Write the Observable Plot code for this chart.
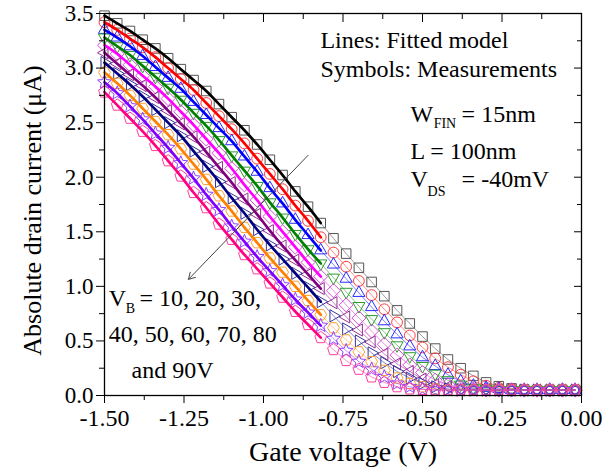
<!DOCTYPE html>
<html><head><meta charset="utf-8">
<script src="https://cdn.jsdelivr.net/npm/d3@7"></script>
<script src="https://cdn.jsdelivr.net/npm/@observablehq/plot@0.6"></script>
<style>body{margin:0;background:#fff}</style>
</head><body><div id="chart"></div>
<script>
// Gate voltage grid (V)
const gateVoltage = [-1.50,-1.46,-1.42,-1.38,-1.34,-1.30,-1.26,-1.22,-1.18,-1.14,-1.10,-1.06,-1.02,-0.98,-0.94,-0.90,-0.86,-0.82,-0.78,-0.74,-0.70,-0.66,-0.62,-0.58,-0.54,-0.50,-0.46,-0.42,-0.38,-0.34,-0.30,-0.26,-0.22,-0.18,-0.14,-0.10,-0.06,-0.02];
const seriesNames = ["0 V","10 V","20 V","30 V","40 V","50 V","60 V","70 V","80 V","90 V"];
// Absolute drain current (uA), one array per back-gate bias
const current0 = [3.48,3.41,3.34,3.26,3.18,3.09,2.99,2.89,2.79,2.67,2.55,2.43,2.30,2.16,2.02,1.87,1.73,1.58,1.44,1.30,1.17,1.04,0.91,0.78,0.66,0.54,0.43,0.33,0.25,0.18,0.12,0.085,0.065,0.055,0.05,0.05,0.05,0.05];
const current1 = [3.42,3.35,3.27,3.19,3.10,3.00,2.90,2.80,2.68,2.56,2.44,2.31,2.17,2.03,1.89,1.74,1.60,1.45,1.31,1.18,1.05,0.92,0.79,0.67,0.55,0.44,0.34,0.26,0.19,0.13,0.09,0.07,0.06,0.05,0.05,0.05,0.05,0.05];
const current2 = [3.35,3.28,3.20,3.11,3.01,2.91,2.81,2.69,2.57,2.45,2.33,2.19,2.05,1.90,1.76,1.61,1.47,1.33,1.20,1.07,0.94,0.81,0.68,0.56,0.45,0.35,0.27,0.19,0.13,0.09,0.07,0.06,0.05,0.05,0.05,0.05,0.05,0.05];
const current3 = [3.28,3.20,3.12,3.02,2.92,2.82,2.71,2.59,2.47,2.34,2.20,2.06,1.92,1.77,1.63,1.48,1.34,1.21,1.08,0.95,0.82,0.70,0.58,0.46,0.36,0.27,0.20,0.14,0.10,0.07,0.06,0.05,0.05,0.05,0.05,0.05,0.05,0.05];
const current4 = [3.21,3.13,3.03,2.93,2.83,2.72,2.60,2.48,2.35,2.22,2.08,1.93,1.79,1.64,1.50,1.36,1.22,1.09,0.96,0.83,0.71,0.59,0.47,0.37,0.28,0.21,0.14,0.10,0.07,0.06,0.05,0.05,0.05,0.05,0.05,0.05,0.05,0.05];
const current5 = [3.14,3.04,2.94,2.84,2.73,2.61,2.49,2.37,2.23,2.09,1.95,1.80,1.66,1.51,1.37,1.24,1.11,0.98,0.85,0.72,0.60,0.49,0.38,0.29,0.22,0.15,0.10,0.08,0.06,0.05,0.05,0.05,0.05,0.05,0.05,0.05,0.05,0.05];
const current6 = [3.05,2.95,2.85,2.74,2.62,2.50,2.38,2.24,2.10,1.96,1.81,1.67,1.52,1.38,1.25,1.12,0.99,0.86,0.73,0.61,0.50,0.39,0.30,0.22,0.16,0.11,0.08,0.06,0.05,0.05,0.05,0.05,0.05,0.05,0.05,0.05,0.05,0.05];
const current7 = [2.96,2.86,2.75,2.63,2.51,2.39,2.26,2.12,1.98,1.83,1.69,1.54,1.40,1.26,1.13,1.00,0.87,0.74,0.62,0.51,0.40,0.31,0.23,0.16,0.11,0.08,0.06,0.05,0.05,0.05,0.05,0.05,0.05,0.05,0.05,0.05,0.05,0.05];
const current8 = [2.87,2.77,2.65,2.53,2.40,2.27,2.13,1.99,1.84,1.70,1.55,1.41,1.27,1.14,1.01,0.88,0.76,0.64,0.52,0.41,0.31,0.24,0.17,0.11,0.08,0.06,0.05,0.05,0.05,0.05,0.05,0.05,0.05,0.05,0.05,0.05,0.05,0.05];
const current9 = [2.78,2.66,2.54,2.42,2.29,2.15,2.01,1.86,1.72,1.57,1.43,1.29,1.16,1.03,0.90,0.77,0.65,0.53,0.42,0.32,0.24,0.17,0.12,0.08,0.06,0.055,0.05,0.05,0.05,0.05,0.05,0.05,0.05,0.05,0.05,0.05,0.05,0.05];
const fitEndVoltage = -0.82;
const lineColors = ["#000000","#ff0000","#0000ff","#008000","#ff00ff","#800080","#000080","#ff8000","#8000ff","#ff0080"];
const markerColors = ["#555555","#ff3b3b","#2a2aff","#2e9a2e","#d94ad9","#963096","#35359a","#ffa035","#9040ff","#ff3d9e"];
const xMajor = [-1.5,-1.25,-1.0,-0.75,-0.5,-0.25,0];
const xMinor = [-1.375,-1.125,-0.875,-0.625,-0.375,-0.125];
const yMajor = [0,0.5,1,1.5,2,2.5,3,3.5];
const yMinor = [0.25,0.75,1.25,1.75,2.25,2.75,3.25];

const currents = [current0,current1,current2,current3,current4,current5,current6,current7,current8,current9];

function polySymbol(n, scale, startDeg, inner) {
  return {draw(ctx, size) {
    const s = Math.sqrt(size / Math.PI) * scale;
    const pts = inner ? n * 2 : n;
    for (let i = 0; i < pts; ++i) {
      const a = (startDeg + i * 360 / pts) * Math.PI / 180;
      const r = inner && i % 2 ? s * inner : s;
      const x = r * Math.cos(a), y = r * Math.sin(a);
      if (i === 0) ctx.moveTo(x, y); else ctx.lineTo(x, y);
    }
    ctx.closePath();
  }};
}
const symbolsList = [
  polySymbol(4, 1.25, 45),        // square
  d3.symbolCircle,                // circle
  polySymbol(3, 1.3, -90),        // up triangle
  polySymbol(3, 1.3, 90),         // down triangle
  polySymbol(4, 1.3, 0),          // diamond
  polySymbol(3, 1.3, 180),        // left triangle
  polySymbol(3, 1.3, 0),          // right triangle
  polySymbol(6, 1.1, 0),          // hexagon
  polySymbol(5, 1.35, -90, 0.45), // star
  polySymbol(5, 1.15, -90)        // pentagon
];

const marks = [];
currents.forEach((vals, k) => {
  const rows = gateVoltage.map((v, i) => ({v, c: vals[i], s: seriesNames[k]}));
  marks.push(Plot.line(rows, {x: "v", y: "c", stroke: markerColors[k], strokeWidth: 0.6, curve: "linear"}));
  marks.push(Plot.dot(rows, {x: "v", y: "c", symbol: symbolsList[k], r: 5.4, stroke: markerColors[k], strokeWidth: 1, fill: "none"}));
});
currents.forEach((vals, k) => {
  const rows = gateVoltage.map((v, i) => ({v, c: vals[i]})).filter(d => d.v <= fitEndVoltage + 1e-9);
  marks.push(Plot.line(rows, {x: "v", y: "c", stroke: lineColors[k], strokeWidth: 2.7, curve: "catmull-rom"}));
});

const serif = "Liberation Serif, Times New Roman, serif";
const chart = Plot.plot({
  width: 603, height: 475,
  marginLeft: 104, marginRight: 22, marginTop: 13, marginBottom: 80,
  style: {fontFamily: serif, color: "black", background: "white"},
  x: {domain: [-1.5, 0]},
  y: {domain: [0, 3.5]},
  marks: [
    ...marks,
    Plot.arrow([{x1: -0.86, y1: 2.20, x2: -1.236, y2: 1.064}], {x1: "x1", y1: "y1", x2: "x2", y2: "y2", stroke: "#444", strokeWidth: 1, headLength: 11, bend: 0}),
    Plot.text(["Lines: Fitted model"], {x: -0.821, y: 3.18, textAnchor: "start", lineAnchor: "bottom", fontSize: 24}),
    Plot.text(["Symbols: Measurements"], {x: -0.821, y: 2.92, textAnchor: "start", lineAnchor: "bottom", fontSize: 24}),
    Plot.text(["W"], {x: -0.538, y: 2.51, textAnchor: "start", lineAnchor: "bottom", fontSize: 24}),
    Plot.text(["FIN"], {x: -0.465, y: 2.45, textAnchor: "start", lineAnchor: "bottom", fontSize: 14}),
    Plot.text(["= 15nm"], {x: -0.377, y: 2.51, textAnchor: "start", lineAnchor: "bottom", fontSize: 24}),
    Plot.text(["L = 100nm"], {x: -0.538, y: 2.17, textAnchor: "start", lineAnchor: "bottom", fontSize: 24}),
    Plot.text(["V"], {x: -0.538, y: 1.91, textAnchor: "start", lineAnchor: "bottom", fontSize: 24}),
    Plot.text(["DS"], {x: -0.484, y: 1.83, textAnchor: "start", lineAnchor: "bottom", fontSize: 14}),
    Plot.text(["= -40mV"], {x: -0.377, y: 1.91, textAnchor: "start", lineAnchor: "bottom", fontSize: 24}),
    Plot.text(["V"], {x: -1.487, y: 0.817, textAnchor: "start", lineAnchor: "bottom", fontSize: 24}),
    Plot.text(["B"], {x: -1.433, y: 0.76, textAnchor: "start", lineAnchor: "bottom", fontSize: 14}),
    Plot.text(["= 10, 20, 30,"], {x: -1.39, y: 0.817, textAnchor: "start", lineAnchor: "bottom", fontSize: 24}),
    Plot.text(["40, 50, 60, 70, 80"], {x: -1.487, y: 0.486, textAnchor: "start", lineAnchor: "bottom", fontSize: 24}),
    Plot.text(["and 90V"], {x: -1.415, y: 0.156, textAnchor: "start", lineAnchor: "bottom", fontSize: 24}),
    Plot.frame({stroke: "black", strokeWidth: 1.3}),
    Plot.axisX(xMajor, {anchor: "bottom", tickSize: 8, tickPadding: 5, tickFormat: d => d.toFixed(2), fontSize: 24, label: null}),
    Plot.axisX(xMinor, {anchor: "bottom", tickSize: 5, tickFormat: () => "", label: null}),
    Plot.axisX(xMajor, {anchor: "top", tickSize: -8, tickFormat: () => "", label: null}),
    Plot.axisX(xMinor, {anchor: "top", tickSize: -5, tickFormat: () => "", label: null}),
    Plot.axisY(yMajor, {anchor: "left", tickSize: 8, tickPadding: 3, tickFormat: d => d.toFixed(1), fontSize: 23, label: null}),
    Plot.axisY(yMinor, {anchor: "left", tickSize: 5, tickFormat: () => "", label: null}),
    Plot.axisY(yMajor, {anchor: "right", tickSize: -8, tickFormat: () => "", label: null}),
    Plot.axisY(yMinor, {anchor: "right", tickSize: -5, tickFormat: () => "", label: null}),
    Plot.text(["Gate voltage (V)"], {frameAnchor: "bottom", dy: 57, fontSize: 28, textAnchor: "middle", lineAnchor: "middle"}),
    Plot.text(["Absolute drain current (\u03bcA)"], {frameAnchor: "left", dx: -72, dy: 6, rotate: -90, fontSize: 26, textAnchor: "middle", lineAnchor: "middle"})
  ]
});
document.getElementById("chart").appendChild(chart);
</script>
</body></html>
